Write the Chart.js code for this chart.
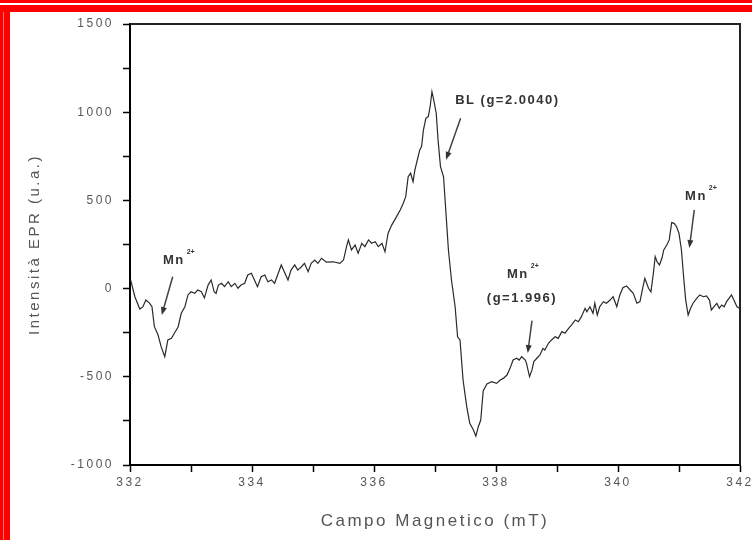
<!DOCTYPE html>
<html>
<head>
<meta charset="utf-8">
<script src="https://cdn.jsdelivr.net/npm/chart.js@4"></script>
<style>
  body { margin: 0; background: #fff; }
</style>
</head>
<body>
<canvas id="eprChart" width="752" height="540"></canvas>
<script>
// magnetic field (mT) and EPR intensity (a.u.)
var field = [332.01, 332.08, 332.16, 332.21, 332.26, 332.32, 332.36, 332.40, 332.46, 332.51,
  332.57, 332.62, 332.68, 332.73, 332.79, 332.84, 332.90, 332.95, 333.00, 333.06,
  333.11, 333.17, 333.22, 333.28, 333.33, 333.38, 333.41, 333.45, 333.50, 333.55,
  333.61, 333.66, 333.72, 333.77, 333.82, 333.88, 333.93, 333.99, 334.04, 334.09,
  334.15, 334.21, 334.26, 334.32, 334.37, 334.43, 334.48, 334.54, 334.59, 334.64,
  334.70, 334.75, 334.81, 334.86, 334.92, 334.97, 335.03, 335.08, 335.14, 335.22,
  335.33, 335.44, 335.50, 335.55, 335.58, 335.63, 335.69, 335.74, 335.80, 335.85,
  335.91, 335.96, 336.02, 336.07, 336.13, 336.18, 336.23, 336.29, 336.37, 336.43,
  336.48, 336.52, 336.56, 336.60, 336.64, 336.67, 336.71, 336.75, 336.78, 336.81,
  336.85, 336.89, 336.92, 336.95, 336.98, 337.02, 337.05, 337.09, 337.14, 337.18,
  337.22, 337.27, 337.33, 337.37, 337.41, 337.46, 337.52, 337.57, 337.63, 337.67,
  337.71, 337.75, 337.79, 337.85, 337.93, 338.01, 338.07, 338.12, 338.18, 338.23,
  338.28, 338.34, 338.38, 338.42, 338.48, 338.50, 338.55, 338.59, 338.62, 338.67,
  338.72, 338.77, 338.80, 338.86, 338.91, 338.97, 339.02, 339.08, 339.13, 339.19,
  339.24, 339.30, 339.35, 339.40, 339.46, 339.49, 339.54, 339.59, 339.62, 339.66,
  339.70, 339.76, 339.81, 339.87, 339.92, 339.98, 340.03, 340.08, 340.14, 340.20,
  340.25, 340.31, 340.36, 340.41, 340.44, 340.50, 340.54, 340.58, 340.61, 340.64,
  340.68, 340.72, 340.75, 340.80, 340.84, 340.88, 340.92, 340.96, 341.00, 341.04,
  341.08, 341.11, 341.15, 341.19, 341.23, 341.29, 341.34, 341.40, 341.45, 341.50,
  341.53, 341.57, 341.62, 341.66, 341.70, 341.74, 341.78, 341.82, 341.86, 341.90,
  341.95, 341.99];
var intensity = [49, -46, -116, -104, -65, -82, -103, -216, -263, -329,
  -386, -291, -282, -252, -216, -140, -103, -36, -18, -27,
  -8, -18, -53, 20, 49, -18, -27, 20, 30, 11,
  39, 11, 30, 2, 20, 30, 77, 87, 49, 11,
  67, 77, 39, 49, 30, 87, 134, 87, 49, 105,
  134, 105, 124, 143, 96, 143, 162, 143, 172, 150,
  152, 143, 162, 238, 276, 219, 247, 200, 257, 238,
  276, 257, 266, 238, 257, 209, 313, 360, 408, 446,
  484, 521, 634, 654, 606, 672, 729, 786, 805, 899,
  965, 975, 1031, 1116, 1069, 994, 843, 691, 634, 427,
  219, 49, -103, -273, -291, -518, -669, -764, -802, -836,
  -783, -745, -580, -540, -528, -537, -518, -509, -490, -452,
  -405, -395, -405, -386, -405, -424, -499, -461, -414, -395,
  -376, -339, -348, -310, -291, -273, -282, -244, -253, -225,
  -206, -178, -188, -159, -112, -131, -103, -140, -83, -150,
  -103, -74, -83, -65, -46, -103, -36, 5, 15, -8,
  -27, -83, -74, 11, 58, 2, -18, 87, 181, 152,
  134, 172, 219, 247, 276, 374, 370, 351, 313, 219,
  49, -65, -150, -112, -83, -55, -36, -46, -42, -65,
  -121, -103, -83, -112, -93, -103, -74, -55, -36, -65,
  -103, -112];

var xTicks = [332, 334, 336, 338, 340, 342];
var yTicks = [-1000, -500, 0, 500, 1000, 1500];

// annotation texts, anchored in data units
var labels = [
  { text: 'Mn', sup: '2+', x: 332.54, y: 162 },
  { text: 'BL (g=2.0040)', x: 337.33, y: 1069 },
  { text: 'Mn', sup: '2+', x: 338.18, y: 83 },
  { text: '(g=1.996)', x: 337.85, y: -53 },
  { text: 'Mn', sup: '2+', x: 341.10, y: 525 }
];
var arrows = [
  { from: [332.70, 67], to: [332.52, -150] },
  { from: [337.42, 965], to: [337.18, 730] },
  { from: [338.59, -182], to: [338.52, -365] },
  { from: [341.25, 446], to: [341.17, 230] }
];

var points = field.map(function (f, i) { return { x: f, y: intensity[i] }; });

function drawArrow(ctx, x0, y0, x1, y1) {
  var ang = Math.atan2(y1 - y0, x1 - x0), L = 8, W = 3;
  ctx.beginPath();
  ctx.moveTo(x0, y0);
  ctx.lineTo(x1 - 4 * Math.cos(ang), y1 - 4 * Math.sin(ang));
  ctx.stroke();
  ctx.beginPath();
  ctx.moveTo(x1, y1);
  ctx.lineTo(x1 - L * Math.cos(ang) + W * Math.sin(ang), y1 - L * Math.sin(ang) - W * Math.cos(ang));
  ctx.lineTo(x1 - L * Math.cos(ang) - W * Math.sin(ang), y1 - L * Math.sin(ang) + W * Math.cos(ang));
  ctx.closePath();
  ctx.fill();
}

var decor = {
  id: 'decor',
  beforeDraw: function (chart) {
    chart.ctx.letterSpacing = '2.5px';
  },
  afterDraw: function (chart) {
    var ctx = chart.ctx, a = chart.chartArea, sx = chart.scales.x, sy = chart.scales.y;
    ctx.save();
    // box: top and right sides
    ctx.strokeStyle = '#222';
    ctx.lineWidth = 2;
    ctx.beginPath();
    ctx.moveTo(a.left, a.top);
    ctx.lineTo(a.right, a.top);
    ctx.lineTo(a.right, a.bottom);
    ctx.stroke();

    // red page border
    ctx.fillStyle = '#f00';
    ctx.fillRect(0, 0, 752, 3);
    ctx.fillRect(0, 5, 752, 7);
    ctx.fillRect(0, 5, 10, 535);
    ctx.fillStyle = '#ff7070';
    ctx.fillRect(3, 12, 1, 528);

    // annotations
    ctx.fillStyle = '#333';
    ctx.strokeStyle = '#444';
    ctx.lineWidth = 1.5;
    ctx.textBaseline = 'middle';
    ctx.textAlign = 'left';
    labels.forEach(function (l) {
      var px = sx.getPixelForValue(l.x), py = sy.getPixelForValue(l.y);
      ctx.letterSpacing = '1.5px';
      ctx.font = 'bold 13px "Liberation Sans", Arial, sans-serif';
      ctx.fillText(l.text, px, py);
      if (l.sup) {
        var w = ctx.measureText(l.text).width;
        ctx.letterSpacing = '0px';
        ctx.font = 'bold 7px "Liberation Sans", Arial, sans-serif';
        ctx.fillText(l.sup, px + w + 2, py - 8);
      }
    });
    arrows.forEach(function (r) {
      drawArrow(ctx,
        sx.getPixelForValue(r.from[0]), sy.getPixelForValue(r.from[1]),
        sx.getPixelForValue(r.to[0]), sy.getPixelForValue(r.to[1]));
    });
    ctx.restore();
  }
};

var eprChart = new Chart(document.getElementById('eprChart').getContext('2d'), {
  type: 'scatter',
  data: {
    datasets: [{
      label: 'EPR',
      data: points,
      showLine: true,
      borderColor: '#2a2a2a',
      borderWidth: 1.2,
      pointRadius: 0,
      tension: 0
    }]
  },
  options: {
    responsive: false,
    animation: false,
    layout: { padding: { top: 24, right: 12, left: 0, bottom: 0 } },
    plugins: { legend: { display: false }, tooltip: { enabled: false } },
    scales: {
      x: {
        type: 'linear',
        min: 332,
        max: 342,
        border: { color: '#000', width: 2 },
        grid: { drawOnChartArea: false, tickLength: 7, tickColor: '#000', tickWidth: 1.5 },
        ticks: {
          stepSize: 1,
          autoSkip: false,
          maxRotation: 0,
          padding: 3,
          color: '#555',
          font: { family: 'Liberation Sans', size: 12 },
          callback: function (v) { return xTicks.indexOf(v) >= 0 ? v : ''; }
        },
        title: {
          display: true,
          text: 'Campo Magnetico (mT)',
          color: '#555',
          font: { family: 'Liberation Sans', size: 17 },
          padding: { top: 0, bottom: 8 }
        },
        afterFit: function (s) { s.height = 75; s.paddingLeft = 0; s.paddingRight = 0; }
      },
      y: {
        min: -1000,
        max: 1500,
        border: { color: '#000', width: 2 },
        grid: { drawOnChartArea: false, tickLength: 7, tickColor: '#000', tickWidth: 1.5 },
        ticks: {
          stepSize: 250,
          autoSkip: false,
          padding: 9,
          color: '#555',
          font: { family: 'Liberation Sans', size: 12 },
          callback: function (v) { return yTicks.indexOf(v) >= 0 ? v : ''; }
        },
        title: {
          display: true,
          text: 'Intensità EPR (u.a.)',
          color: '#555',
          font: { family: 'Liberation Sans', size: 15 },
          padding: { top: 26, bottom: 0 }
        },
        afterFit: function (s) { s.width = 130; s.paddingTop = 0; s.paddingBottom = 0; }
      }
    }
  },
  plugins: [decor]
});
</script>
</body>
</html>
